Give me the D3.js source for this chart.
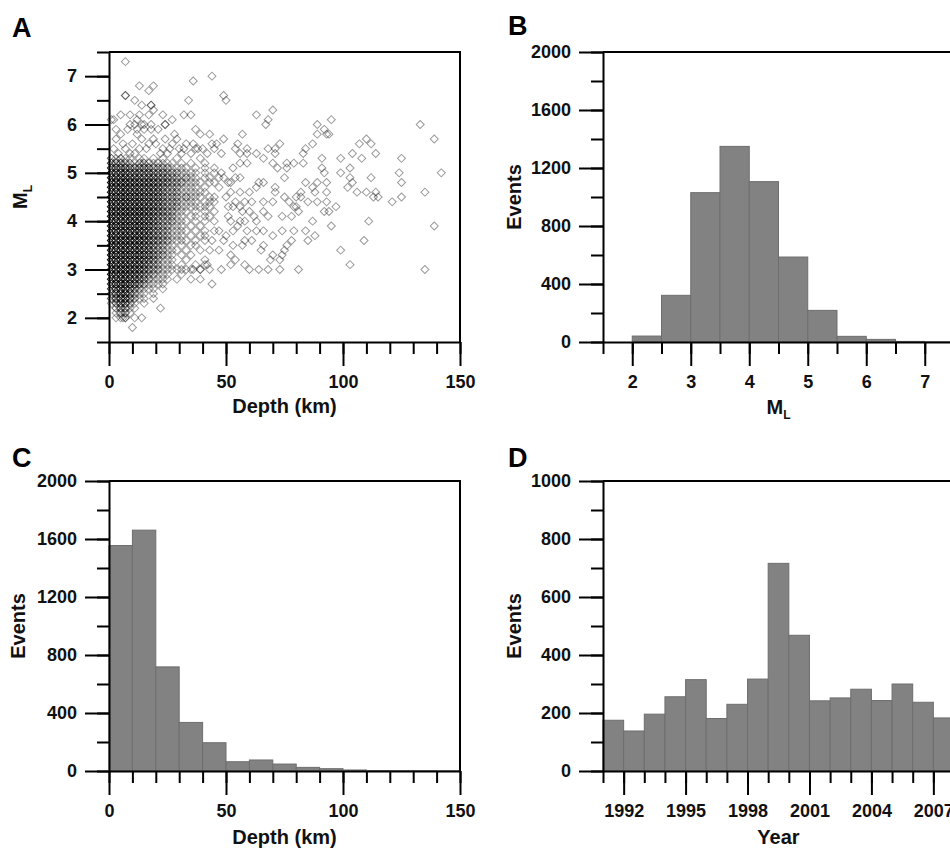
<!DOCTYPE html>
<html>
<head>
<meta charset="utf-8">
<script src="https://cdn.jsdelivr.net/npm/d3@7"></script>
<style>
  body { margin: 0; background: #fff; }
  svg text { font-family: "Liberation Sans", Arial, sans-serif; font-weight: bold; }
</style>
</head>
<body>
<svg id="fig" width="950" height="848"></svg>
<script>
// ---- data ----

// B: magnitude histogram (bin left edges, 0.5 wide)
const mlBins = [2.0, 2.5, 3.0, 3.5, 4.0, 4.5, 5.0, 5.5, 6.0, 6.5, 7.0];
const mlCounts = [41, 322, 1030, 1349, 1106, 586, 218, 39, 18, 4, 1];

// C: depth histogram (bin left edges, 10 km wide)
const depthBins = [0, 10, 20, 30, 40, 50, 60, 70, 80, 90, 100, 110, 120, 130, 140];
const depthCounts = [1555, 1661, 718, 335, 195, 64, 76, 48, 25, 16, 7, 3, 2, 2, 1];

// D: events per year
const years = [1991, 1992, 1993, 1994, 1995, 1996, 1997, 1998, 1999, 2000, 2001, 2002, 2003, 2004, 2005, 2006, 2007];
const yearCounts = [175, 138, 196, 256, 315, 181, 230, 317, 716, 468, 242, 252, 282, 243, 300, 237, 183];

// A: dense core, events per cell (rows = ML, columns = depth in km)
const coreMl = [5.3, 5.2, 5.1, 5.0, 4.9, 4.8, 4.7, 4.6, 4.5, 4.4, 4.3, 4.2, 4.1, 4.0, 3.9, 3.8, 3.7,
  3.6, 3.5, 3.4, 3.3, 3.2, 3.1, 3.0, 2.9, 2.8, 2.7, 2.6, 2.5, 2.4, 2.3, 2.2, 2.1, 2.0];
const coreDepth = [1, 3, 5, 7, 9, 11, 13, 15, 17, 19, 21, 23, 25, 27, 29, 31, 33, 35, 37, 39, 41, 43, 45, 47, 49];
const coreCounts = [
  "2121101101010010000100000",
  "3332212221211101010010000",
  "4444333332222111101010100",
  "5565444343332221111010100",
  "6666554444333221211011010",
  "6777665554433222111101100",
  "6777665554432221111010010",
  "7778766554432221111110000",
  "7788776554432221211101100",
  "7888776654432221111011100",
  "7888877654432221111111000",
  "7888877654332211101010100",
  "7888877654332211011011000",
  "7888877654322211101010100",
  "7888877653322111010100000",
  "7888877653322111101010100",
  "7888876653322111010110000",
  "7888876543322111101010000",
  "7888876543221101011000000",
  "7888876543221110100100000",
  "7888866543221101010000000",
  "7888866543211100100000000",
  "6888765432211101001010000",
  "6888765432211111010101000",
  "6788654322111001000000000",
  "5788654321111010000000000",
  "4788543211110000000000000",
  "3678432111010000000000000",
  "2567321101000000000000000",
  "2456321101000000000000000",
  "1345210100000000000000000",
  "0233110000000000000000000",
  "0122100000000000000000000",
  "0111010000000000000000000"
];

// A: scattered events outside the core [depth km, ML]
const sparsePoints = [
  [7,7.3],[44,7.0],[36,6.9],[13,6.8],[19,6.8],[17,6.7],[7,6.6],[7,6.6],[49,6.6],[50,6.5],[11,6.5],[34,6.5],
  [14,6.4],[18,6.4],[18,6.4],[19,6.3],[70,6.3],[2,6.1],[5,6.2],[9,6.2],[13,6.2],[17,6.2],[23,6.2],[32,6.2],
  [35,6.2],[63,6.2],[27,6.1],[24,6.0],[24,6.0],[68,6.1],[67,6.0],[95,6.1],[89,6.0],[133,6.0],[11,6.0],[14,6.0],
  [12,5.9],[37,5.9],[39,5.8],[43,5.8],[57,5.8],[92,5.9],[94,5.8],[93,5.8],[89,5.8],[139,5.7],[110,5.7],[107,5.6],
  [112,5.6],[49,5.7],[46,5.6],[55,5.6],[73,5.6],[54,5.5],[59,5.5],[68,5.5],[71,5.5],[84,5.5],[87,5.6],[104,5.4],
  [114,5.4],[125,5.3],[99,5.3],[91,5.3],[108,5.3],[56,5.4],[59,5.4],[63,5.4],[71,5.4],[83,5.4],[66,5.3],[76,5.2],
  [79,5.2],[83,5.2],[59,5.2],[56,5.2],[142,5.0],[124,5.0],[99,5.0],[103,5.1],[91,5.1],[92,5.0],[125,4.8],[112,4.9],
  [103,4.9],[104,4.8],[102,4.7],[106,4.6],[110,4.6],[114,4.6],[113,4.5],[115,4.5],[125,4.5],[135,4.6],[121,4.4],
  [87,4.7],[84,4.8],[93,4.8],[89,4.8],[88,4.6],[93,4.6],[85,4.4],[89,4.4],[93,4.4],[97,4.3],[92,4.2],[94,4.2],
  [111,4.0],[87,4.0],[95,3.9],[139,3.9],[84,3.8],[88,3.7],[85,3.6],[109,3.6],[99,3.4],[103,3.1],[135,3.0],
  [60,3.0],[64,3.0],[68,3.0],[73,3.0],[81,3.0],[58,3.1],[52,3.1],[48,3.0],[44,2.7],[39,2.8],[35,2.8],[22,2.2],
  [10,1.8],[14,2.0],[6,2.0],[7,2.0],[70,3.3],[74,3.3],[76,3.5],[75,3.4],[73,3.2],[69,3.2],[78,3.6],[79,3.8],
  [74,3.8],[70,3.7],[65,3.4],[66,3.5],[78,4.1],[74,4.1],[68,4.1],[66,4.2],[63,4.0],[59,3.8],[63,3.8],[66,3.8],
  [60,4.2],[58,3.6],[61,3.6],[77,4.4],[80,4.3],[79,4.3],[75,4.5],[71,4.6],[71,4.7],[66,4.8],[64,4.8],[63,4.7],
  [60,4.6],[56,4.6],[58,4.4],[61,4.4],[66,4.4],[70,4.4],[53,4.3],[56,4.3],[75,4.9],[76,5.1],[72,5.1],[70,5.2],
  [56,4.9],[51,4.8],[53,5.1],[54,4.9],[52,4.8],[82,4.6],[82,4.5],[80,4.5],[81,4.2],[47,3.4],[52,3.3],[54,3.2],
  [49,3.6],[53,3.8],[56,4.0],[52,4.0],[47,3.8],[44,3.6],[43,3.4],[41,3.2],[39,3.0],[36,3.0],[33,3.0],[42,3.1],
  [3,5.7],[5,5.8],[8,5.9],[10,5.6],[12,5.8],[14,5.7],[16,5.5],[18,5.9],[20,5.6],[22,5.4],[24,5.7],[26,5.5],
  [28,5.8],[30,5.5],[31,5.4],[33,5.6],[35,5.4],[37,5.5],[40,5.5],[42,5.4],[45,5.5],[48,5.4],[38,5.5],[2,5.5],
  [6,5.6],[9,5.4],[13,5.5],[15,5.9],[19,5.7],[21,5.9],[25,5.4],[27,5.6],[29,5.7],[32,5.5],[4,5.4],[7,5.5],
  [11,5.4],[17,5.6],[23,5.5],[36,5.6],[44,5.6],[3,5.9],[9,6.0],[15,6.0],[12,6.1],[18,6.0],[1,6.1],
  [50,4.5],[52,4.6],[54,4.4],[57,4.2],[51,4.1],[55,3.9],[50,3.7],[57,3.5],[53,3.5],[58,4.0],[62,4.1],[51,4.3],
  [49,4.9],[48,5.0]
];

// tick definitions
const depthMajor = [0, 50, 100, 150];
const depthMinor = d3.range(0, 151, 10);
const mlMajor = [2, 3, 4, 5, 6, 7];
const mlMinor = d3.range(1.5, 7.51, 0.5);
const eventsMajor = [0, 400, 800, 1200, 1600, 2000];
const eventsMinor = d3.range(0, 2001, 200);
const yearEventsMajor = [0, 200, 400, 600, 800, 1000];
const yearEventsMinor = d3.range(0, 1001, 100);
const yearMajor = [1992, 1995, 1998, 2001, 2004, 2007];
const yearMinor = d3.range(1991, 2009, 1);

// ---- layout ----
const svg = d3.select('#fig');
const W = 351, H = 290;
const barFill = '#828282', barEdge = '#6e6e6e';

function panel(left, top) {
  return svg.append('g').attr('transform', `translate(${left},${top})`);
}

function styleAxis(g) {
  g.attr('font-size', 18)
    .attr('font-family', '"Liberation Sans", Arial, sans-serif')
    .attr('font-weight', 'bold');
  g.selectAll('line, path').attr('stroke', '#000').attr('stroke-width', 2);
  g.selectAll('text').attr('fill', '#111');
}

function drawAxes(g, x, y, xMajor, xMinor, yMajor, yMinor) {
  g.append('g').attr('transform', `translate(0,${H})`)
    .call(d3.axisBottom(x).tickValues(xMinor).tickSize(12).tickFormat(''))
    .call(a => a.select('.domain').remove())
    .call(styleAxis);
  g.append('g').attr('transform', `translate(0,${H})`)
    .call(d3.axisBottom(x).tickValues(xMajor).tickSize(24).tickSizeOuter(0).tickPadding(9).tickFormat(d3.format('d')))
    .call(styleAxis);
  g.append('g')
    .call(d3.axisLeft(y).tickValues(yMinor).tickSize(12).tickFormat(''))
    .call(a => a.select('.domain').remove())
    .call(styleAxis);
  g.append('g')
    .call(d3.axisLeft(y).tickValues(yMajor).tickSize(24).tickSizeOuter(0).tickPadding(8).tickFormat(d3.format('d')))
    .call(styleAxis);
  // top and right frame
  g.append('path')
    .attr('d', `M${x.range()[0]},${y.range()[1]}H${x.range()[1]}V${y.range()[0]}`)
    .attr('fill', 'none').attr('stroke', '#000').attr('stroke-width', 2);
}

function bars(g, x, y, bins, counts, step) {
  g.selectAll('rect.bar').data(bins).join('rect')
    .attr('class', 'bar')
    .attr('x', d => x(d))
    .attr('width', d => x(d + step) - x(d))
    .attr('y', (d, i) => y(counts[i]))
    .attr('height', (d, i) => y(0) - y(counts[i]))
    .attr('fill', barFill)
    .attr('stroke', barEdge)
    .attr('stroke-width', 1);
}

function label(text, x, y) {
  svg.append('text').attr('x', x).attr('y', y)
    .attr('font-size', 27).attr('fill', '#000').text(text);
}

function xTitle(x, y, text, sub) {
  const t = svg.append('text').attr('x', x).attr('y', y)
    .attr('text-anchor', 'middle').attr('font-size', 20).attr('fill', '#111');
  t.append('tspan').text(text);
  if (sub) t.append('tspan').attr('font-size', 12).attr('dy', 5).text(sub);
}

function yTitle(x, y, text, sub) {
  const t = svg.append('text')
    .attr('transform', `translate(${x},${y}) rotate(-90)`)
    .attr('text-anchor', 'middle').attr('font-size', 20).attr('fill', '#111');
  t.append('tspan').text(text);
  if (sub) t.append('tspan').attr('font-size', 12).attr('dy', 5).text(sub);
}

// ---- A: scatter ----
{
  const g = panel(109, 52);
  const x = d3.scaleLinear().domain([0, 150]).range([0, W]);
  const y = d3.scaleLinear().domain([1.5, 7.5]).range([H, 0]);
  const diamond = d3.symbol().type(d3.symbolSquare).size(32);

  const cells = [];
  coreCounts.forEach((row, i) => {
    row.split('').forEach((c, j) => {
      const n = +c;
      if (n > 0) cells.push({ depth: coreDepth[j], ml: coreMl[i], n });
    });
  });

  g.append('g').selectAll('path').data(cells).join('path')
    .attr('d', diamond)
    .attr('transform', d => `translate(${x(d.depth)},${y(d.ml)}) rotate(45)`)
    .attr('fill', 'none')
    .attr('stroke', '#000')
    .attr('stroke-width', 1)
    .attr('stroke-opacity', d => 1 - Math.pow(0.62, d.n));

  g.append('g').selectAll('path').data(sparsePoints).join('path')
    .attr('d', diamond)
    .attr('transform', d => `translate(${x(d[0])},${y(d[1])}) rotate(45)`)
    .attr('fill', 'none')
    .attr('stroke', '#000')
    .attr('stroke-width', 1)
    .attr('stroke-opacity', 0.4);

  drawAxes(g, x, y, depthMajor, depthMinor, mlMajor, mlMinor);
}

// ---- B: magnitude histogram ----
{
  const g = panel(603, 52);
  const x = d3.scaleLinear().domain([1.5, 7.5]).range([0, W]);
  const y = d3.scaleLinear().domain([0, 2000]).range([H, 0]);
  bars(g, x, y, mlBins, mlCounts, 0.5);
  drawAxes(g, x, y, mlMajor, mlMinor, eventsMajor, eventsMinor);
}

// ---- C: depth histogram ----
{
  const g = panel(109, 481);
  const x = d3.scaleLinear().domain([0, 150]).range([0, W]);
  const y = d3.scaleLinear().domain([0, 2000]).range([H, 0]);
  bars(g, x, y, depthBins, depthCounts, 10);
  drawAxes(g, x, y, depthMajor, depthMinor, eventsMajor, eventsMinor);
}

// ---- D: events per year ----
{
  const g = panel(603, 481);
  const x = d3.scaleLinear().domain([1991, 2008]).range([0, W]);
  const y = d3.scaleLinear().domain([0, 1000]).range([H, 0]);
  bars(g, x, y, years, yearCounts, 1);
  drawAxes(g, x, y, yearMajor, yearMinor, yearEventsMajor, yearEventsMinor);
}

// ---- titles and panel letters ----
label('A', 12, 37);
label('B', 508, 35);
label('C', 12, 467);
label('D', 508, 467);

xTitle(284.5, 413, 'Depth (km)');
yTitle(27, 197, 'M', 'L');
xTitle(778.5, 414, 'M', 'L');
yTitle(521, 197, 'Events');
xTitle(284.5, 844, 'Depth (km)');
yTitle(25, 626, 'Events');
xTitle(778.5, 844, 'Year');
yTitle(521, 626, 'Events');
</script>
</body>
</html>
